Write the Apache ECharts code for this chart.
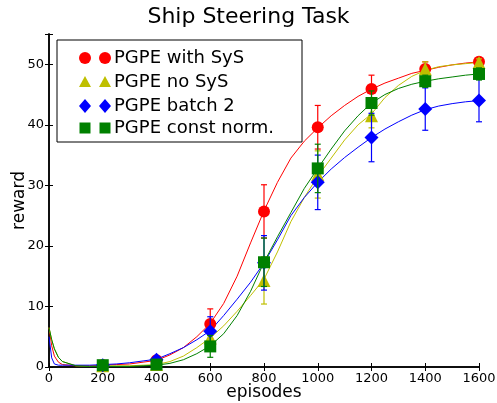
<!DOCTYPE html>
<html>
<head>
<meta charset="utf-8">
<script src="https://cdn.jsdelivr.net/npm/echarts@6/dist/echarts.min.js"></script>
<style>
  html, body { margin: 0; padding: 0; background: #fff; }
  #main { width: 497px; height: 403px; }
</style>
</head>
<body>
<div id="main"></div>
<script>
// episodes at which the curves were sampled
var episodes = [0, 10, 20, 35, 50, 100, 150, 200, 250, 300, 350, 400, 450, 500, 550, 600, 650, 700, 750, 800,
	850, 900, 950, 1000, 1050, 1100, 1150, 1200, 1250, 1300, 1350, 1400, 1450, 1500, 1550, 1600];

var withSys = [6.5, 3.5, 1.8, 0.8, 0.4, 0.2, 0.2, 0.3, 0.4, 0.5, 0.8, 1.1, 2.0, 3.2, 5.0, 7.2, 10.5, 15.0, 20.5, 25.8,
	30.5, 34.5, 37.3, 39.5, 41.5, 43.2, 44.7, 45.9, 46.9, 47.7, 48.5, 49.0, 49.5, 49.9, 50.2, 50.4];
var noSys = [6.5, 4.5, 3.0, 1.6, 0.9, 0.2, 0.1, 0.2, 0.2, 0.2, 0.3, 0.4, 0.9, 1.8, 3.2, 4.8, 6.8, 9.2, 11.8, 14.5,
	19.0, 24.0, 28.0, 31.5, 34.5, 37.5, 40.0, 41.8, 44.5, 46.5, 48.0, 49.0, 49.6, 49.9, 50.1, 50.3];
var batch2 = [5.0, 1.5, 0.5, 0.3, 0.3, 0.3, 0.3, 0.4, 0.5, 0.7, 1.0, 1.3, 2.2, 3.2, 4.5, 6.0, 8.5, 11.2, 14.0, 17.2,
	21.0, 25.0, 28.0, 30.5, 32.7, 34.6, 36.3, 37.9, 39.3, 40.5, 41.6, 42.5, 43.1, 43.5, 43.8, 44.0];
var constNorm = [6.5, 4.5, 3.0, 1.6, 0.9, 0.2, 0.1, 0.1, 0.1, 0.1, 0.2, 0.3, 0.6, 1.2, 2.2, 3.5, 5.5, 8.5, 12.5, 17.3,
	21.5, 25.5, 29.5, 32.8, 36.0, 39.0, 41.5, 43.6, 45.0, 46.0, 46.7, 47.2, 47.6, 47.9, 48.2, 48.4];

// marker points with error bars
var markEpisodes = [200, 400, 600, 800, 1000, 1200, 1400, 1600];
var withSysMark = [0.3, 1.1, 7.1, 25.7, 39.6, 45.9, 49.2, 50.4];
var noSysMark = [0.2, 0.4, 4.8, 14.3, 31.8, 41.5, 49.2, 50.3];
var batch2Mark = [0.3, 1.2, 5.9, 17.2, 30.5, 37.9, 42.6, 44.0];
var constNormMark = [0.3, 0.4, 3.4, 17.3, 32.8, 43.6, 47.2, 48.4];

var withSysErr = [0.2, 0.3, 2.5, 4.4, 3.6, 2.3, 1.2, 0.6];
var noSysErr = [0.2, 0.3, 1.2, 3.9, 3.9, 2.0, 1.2, 0.6];
var batch2Err = [0.2, 0.4, 2.4, 4.5, 4.5, 4.0, 3.5, 3.5];
var constNormErr = [0.2, 0.3, 1.8, 4.0, 4.0, 2.0, 1.0, 1.0];

var names = ['PGPE with SyS', 'PGPE no SyS', 'PGPE batch 2', 'PGPE const norm.'];
var colors = ['#ff0000', '#bfbf00', '#0000ff', '#008000'];
var symbols = ['circle', 'triangle', 'diamond', 'rect'];
var curves = [withSys, noSys, batch2, constNorm];
var marks = [withSysMark, noSysMark, batch2Mark, constNormMark];
var errs = [withSysErr, noSysErr, batch2Err, constNormErr];

var font = 'DejaVu Sans';
var myChart = echarts.init(document.getElementById('main'));

function pairs(xs, ys) {
	return xs.map(function(x, i) { return [x, ys[i]]; });
}

var series = [];
curves.forEach(function(c, k) {
	series.push({
		name: names[k],
		type: 'line',
		data: pairs(episodes, c),
		showSymbol: false,
		lineStyle: { color: colors[k], width: 1 },
		z: 2,
		animation: false
	});
});
marks.forEach(function(m, k) {
	series.push({
		type: 'custom',
		data: markEpisodes.map(function(x, i) { return [x, m[i] - errs[k][i], m[i] + errs[k][i]]; }),
		renderItem: function(params, api) {
			var lo = api.coord([api.value(0), api.value(1)]);
			var hi = api.coord([api.value(0), api.value(2)]);
			var cap = 3;
			var st = { stroke: colors[k], lineWidth: 1.2 };
			return {
				type: 'group',
				children: [
					{ type: 'line', shape: { x1: lo[0], y1: lo[1], x2: hi[0], y2: hi[1] }, style: st },
					{ type: 'line', shape: { x1: lo[0] - cap, y1: lo[1], x2: lo[0] + cap, y2: lo[1] }, style: st },
					{ type: 'line', shape: { x1: hi[0] - cap, y1: hi[1], x2: hi[0] + cap, y2: hi[1] }, style: st }
				]
			};
		},
		z: 3 + k,
		animation: false
	});
	series.push({
		type: 'scatter',
		data: pairs(markEpisodes, m),
		symbol: symbols[k],
		symbolSize: k === 1 ? 13 : (k === 2 ? 14 : 12),
		itemStyle: { color: colors[k], opacity: 1 },
		z: 3 + k,
		animation: false
	});
});

// legend drawn by hand: matplotlib shows two markers per entry
var legendChildren = [{
	type: 'rect', shape: { x: 57, y: 40, width: 245, height: 102 },
	style: { fill: '#fff', stroke: '#000', lineWidth: 1 }
}];
var rowY = [58, 82, 106, 128];
names.forEach(function(n, k) {
	[85, 105].forEach(function(mx) {
		var sh;
		if (k === 0) sh = { type: 'circle', shape: { cx: mx, cy: rowY[k], r: 6 } };
		else if (k === 1) sh = { type: 'polygon', shape: { points: [[mx, rowY[k] - 6], [mx + 6, rowY[k] + 5], [mx - 6, rowY[k] + 5]] } };
		else if (k === 2) sh = { type: 'polygon', shape: { points: [[mx, rowY[k] - 7], [mx + 6, rowY[k]], [mx, rowY[k] + 7], [mx - 6, rowY[k]]] } };
		else sh = { type: 'rect', shape: { x: mx - 5.5, y: rowY[k] - 5.5, width: 11, height: 11 } };
		sh.style = { fill: colors[k] };
		legendChildren.push(sh);
	});
	legendChildren.push({
		type: 'text', x: 114, y: rowY[k],
		style: { text: n, font: '18px "' + font + '"', fill: '#000', textVerticalAlign: 'middle' }
	});
});

var tickStyle = { inside: true, length: 4, lineStyle: { color: '#000' } };
var frameLine = { show: true, lineStyle: { color: '#000', width: 1.5 } };

option = {
	backgroundColor: '#fff',
	animation: false,
	title: {
		text: 'Ship Steering Task',
		left: 'center',
		top: 1,
		textStyle: { fontFamily: font, fontSize: 22, fontWeight: 'normal', color: '#000' }
	},
	grid: { left: 49, right: 18, top: 34, bottom: 36, outerBoundsMode: 'none', containLabel: false },
	xAxis: [{
		type: 'value', min: 0, max: 1600, interval: 200,
		name: 'episodes', nameLocation: 'middle', nameGap: 17, nameMoveOverlap: false,
		nameTextStyle: { fontFamily: font, fontSize: 17, color: '#000' },
		axisLine: frameLine,
		axisTick: tickStyle,
		axisLabel: { fontFamily: font, fontSize: 13, color: '#000', margin: 5,
			formatter: function(v) { return String(v); } },
		splitLine: { show: false }
	}, {
		type: 'value', min: 0, max: 1600, interval: 200, position: 'top',
		axisLine: frameLine,
		axisTick: tickStyle,
		axisLabel: { show: false }, splitLine: { show: false }
	}],
	yAxis: [{
		type: 'value', min: 0, max: 55, interval: 10,
		name: 'reward', nameLocation: 'middle', nameGap: 21, nameMoveOverlap: false,
		nameTextStyle: { fontFamily: font, fontSize: 17, color: '#000' },
		axisLine: frameLine,
		axisTick: tickStyle,
		axisLabel: { fontFamily: font, fontSize: 13, color: '#000', margin: 5,
			formatter: function(v) { return v > 50 ? '' : String(v); } },
		splitLine: { show: false }
	}, {
		type: 'value', min: 0, max: 55, interval: 10, position: 'right',
		axisLine: frameLine,
		axisTick: tickStyle,
		axisLabel: { show: false }, splitLine: { show: false }
	}],
	graphic: legendChildren.map(function(c) { c.z = 100; return c; }),
	series: series
};
myChart.setOption(option);
</script>
</body>
</html>
